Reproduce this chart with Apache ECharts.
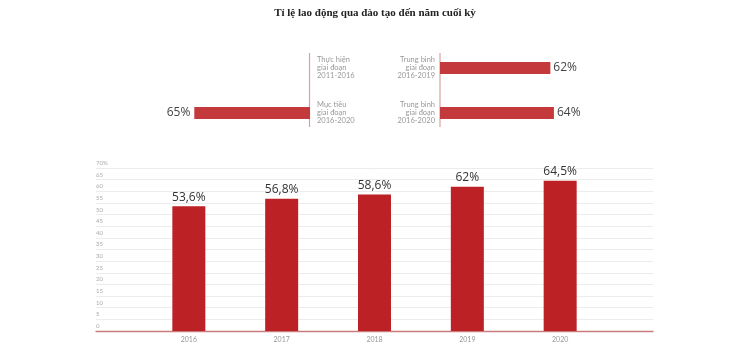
<!DOCTYPE html>
<html>
<head>
<meta charset="utf-8">
<script src="https://cdn.jsdelivr.net/npm/echarts@6/dist/echarts.min.js"></script>
<style>
  html, body { margin: 0; padding: 0; background: #fff; }
  #chart { width: 750px; height: 351px; }
</style>
</head>
<body>
<div id="chart"></div>
<script>
// tiêu đề
const title = 'Tỉ lệ lao động qua đào tạo đến năm cuối kỳ'

// khối trên bên trái
const leftCategories = ['Thực hiện\ngiai đoạn\n2011-2016', 'Mục tiêu\ngiai đoạn\n2016-2020']
const leftValues = [null, 65]

// khối trên bên phải
const rightCategories = ['Trung bình\ngiai đoạn\n2016-2019', 'Trung bình\ngiai đoạn\n2016-2020']
const rightValues = [62, 64]

// biểu đồ cột theo năm (cột rỗng hai đầu để căn vị trí)
const years = ['', '2016', '2017', '2018', '2019', '2020', '']
const yearValues = [null, 53.6, 56.8, 58.6, 62, 64.5, null]
const yearLabels = ['', '53,6%', '56,8%', '58,6%', '62%', '64,5%', '']

const topColor = '#c43a3c'
const barColor = '#bc2225'
const font = 'Lato, "Open Sans", sans-serif'
const numFont = '"Open Sans", sans-serif'

const chart = echarts.init(document.getElementById('chart'))

chart.setOption({
  animation: false,
  title: {
    text: title,
    left: 'center',
    top: 3,
    textStyle: {
      fontFamily: '"Liberation Serif", serif',
      fontWeight: 'bold',
      fontSize: 11,
      color: '#222',
    },
  },
  grid: [
    { left: 132, width: 178, top: 45.5, height: 90 },
    { left: 440, width: 178, top: 45.5, height: 90 },
    { left: 96, right: 97, top: 168, bottom: 20 },
  ],
  xAxis: [
    { gridIndex: 0, type: 'value', min: 0, max: 100, inverse: true, show: false },
    { gridIndex: 1, type: 'value', min: 0, max: 100, show: false },
    {
      gridIndex: 2,
      type: 'category',
      data: years,
      boundaryGap: false,
      axisLine: { lineStyle: { color: '#c97c7c', width: 1.3 } },
      axisTick: { show: false },
      axisLabel: { color: '#999', fontSize: 7, fontFamily: font, margin: 5 },
    },
  ],
  yAxis: [
    {
      gridIndex: 0,
      type: 'category',
      data: leftCategories,
      inverse: true,
      position: 'right',
      axisLine: { show: false },
      axisTick: { show: false },
      axisLabel: { color: '#999', fontSize: 7.5, lineHeight: 8, fontFamily: font, margin: 7, align: 'left' },
    },
    {
      gridIndex: 1,
      type: 'category',
      data: rightCategories,
      inverse: true,
      axisLine: { show: false },
      axisTick: { show: false },
      axisLabel: { color: '#999', fontSize: 7.5, lineHeight: 8, fontFamily: font, margin: 5, align: 'right' },
    },
    {
      gridIndex: 2,
      type: 'value',
      min: 0,
      max: 70,
      interval: 5,
      axisLine: { show: false },
      axisTick: { show: false },
      splitLine: { lineStyle: { color: '#ececec' } },
      axisLabel: {
        inside: true,
        margin: 0,
        verticalAlign: 'bottom',
        padding: [0, 0, 2, 0],
        color: '#aaa',
        fontSize: 6,
        fontFamily: font,
        formatter: (v) => (v === 70 ? '70%' : String(v)),
      },
    },
  ],
  graphic: [
    { type: 'line', shape: { x1: 309.5, y1: 53, x2: 309.5, y2: 127 }, style: { stroke: '#d9a0a0', lineWidth: 1.2 } },
    { type: 'line', shape: { x1: 440, y1: 53, x2: 440, y2: 127 }, style: { stroke: '#d9a0a0', lineWidth: 1.2 } },
  ],
  series: [
    {
      type: 'bar',
      xAxisIndex: 0,
      yAxisIndex: 0,
      data: leftValues,
      barWidth: 12,
      itemStyle: { color: topColor },
      label: { show: true, position: 'left', distance: 4, color: '#444', fontSize: 12, fontFamily: numFont, formatter: '{c}%' },
    },
    {
      type: 'bar',
      xAxisIndex: 1,
      yAxisIndex: 1,
      data: rightValues,
      barWidth: 12,
      itemStyle: { color: topColor },
      label: { show: true, position: 'right', distance: 3, color: '#444', fontSize: 12, fontFamily: numFont, formatter: '{c}%' },
    },
    {
      type: 'bar',
      xAxisIndex: 2,
      yAxisIndex: 2,
      data: yearValues,
      barWidth: 33,
      itemStyle: { color: barColor },
      label: {
        show: true,
        position: 'top',
        distance: 3,
        color: '#333',
        fontSize: 12,
        fontFamily: numFont,
        formatter: (p) => yearLabels[p.dataIndex],
      },
    },
  ],
})
</script>
</body>
</html>
